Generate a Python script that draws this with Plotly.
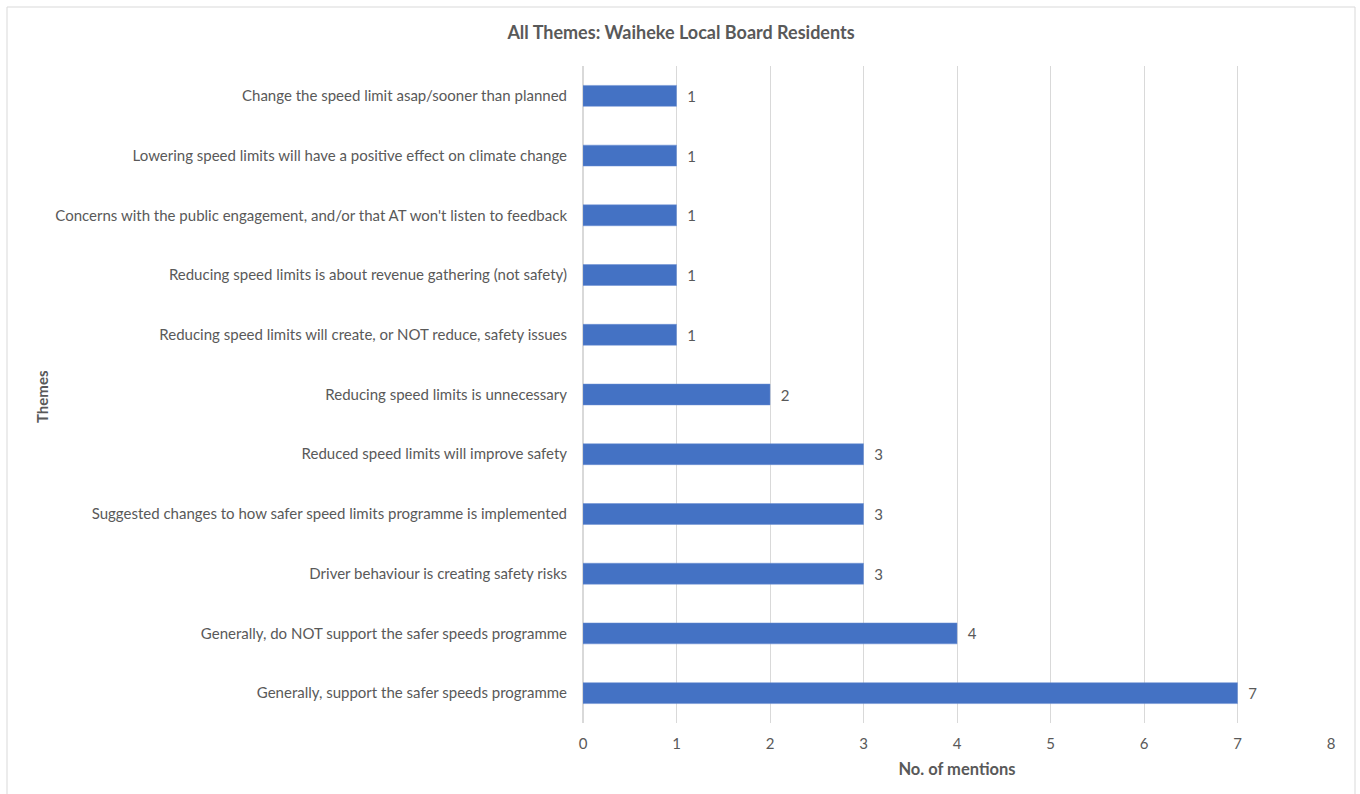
import plotly.graph_objects as go

themes = [
    "Generally, support the safer speeds programme",
    "Generally, do NOT support the safer speeds programme",
    "Driver behaviour is creating safety risks",
    "Suggested changes to how safer speed limits programme is implemented",
    "Reduced speed limits will improve safety",
    "Reducing speed limits is unnecessary",
    "Reducing speed limits will create, or NOT reduce, safety issues",
    "Reducing speed limits is about revenue gathering (not safety)",
    "Concerns with the public engagement, and/or that AT won't listen to feedback",
    "Lowering speed limits will have a positive effect on climate change",
    "Change the speed limit asap/sooner than planned",
]
mentions = [7, 4, 3, 3, 3, 2, 1, 1, 1, 1, 1]
x_ticks = [0, 1, 2, 3, 4, 5, 6, 7, 8]

FONT = "Lato"
GRAY = "#595959"

fig = go.Figure(
    go.Bar(
        y=themes,
        x=mentions,
        orientation="h",
        width=0.35,
        marker=dict(color="#4472C4", line=dict(color="#6a8fd2", width=0.5)),
        text=["  " + str(v) for v in mentions],
        textposition="outside",
        textfont=dict(family=FONT, size=15, color=GRAY),
        cliponaxis=False,
    )
)

fig.update_layout(
    width=1360,
    height=794,
    margin=dict(l=583, r=29, t=66, b=71),
    paper_bgcolor="white",
    plot_bgcolor="white",
    showlegend=False,
    font=dict(family=FONT, color=GRAY, size=15),
    title=dict(
        text="<b>All Themes: Waiheke Local Board Residents</b>",
        x=681 / 1360,
        xref="container",
        xanchor="center",
        y=1 - 33 / 794,
        yanchor="middle",
        font=dict(family=FONT, size=18, color=GRAY),
    ),
    xaxis=dict(
        range=[0, 8],
        tickvals=x_ticks,
        showgrid=True,
        gridcolor="#D9D9D9",
        gridwidth=1,
        zeroline=True,
        zerolinecolor="#D9D9D9",
        showline=False,
        ticks="",
        ticklabelstandoff=10,
        tickfont=dict(family=FONT, size=15, color=GRAY),
        title=dict(text="<b>No. of mentions</b>", font=dict(family=FONT, size=16.5, color=GRAY), standoff=12),
        automargin=False,
    ),
    yaxis=dict(
        showgrid=False,
        showline=False,
        ticks="",
        ticklabelstandoff=15,
        tickfont=dict(family=FONT, size=15, color=GRAY),
        range=[-0.5, 10.5],
        automargin=False,
    ),
    shapes=[
        dict(
            type="rect",
            xref="paper",
            yref="paper",
            x0=(7 - 583) / 748,
            x1=(1355 - 583) / 748,
            y0=(723 - 800) / 657,
            y1=(723 - 7) / 657,
            line=dict(color="#D9D9D9", width=1),
            fillcolor="rgba(0,0,0,0)",
            layer="below",
        )
    ],
    annotations=[
        dict(
            text="<b>Themes</b>",
            xref="paper",
            yref="paper",
            x=(42 - 583) / 748,
            y=(723 - 397) / 657,
            textangle=-90,
            showarrow=False,
            xanchor="center",
            yanchor="middle",
            font=dict(family=FONT, size=15, color=GRAY),
        )
    ],
)

fig.write_html(
    "out.html",
    config={"displayModeBar": False},
    post_script="document.body.style.margin='0';document.body.style.overflow='hidden';",
)
